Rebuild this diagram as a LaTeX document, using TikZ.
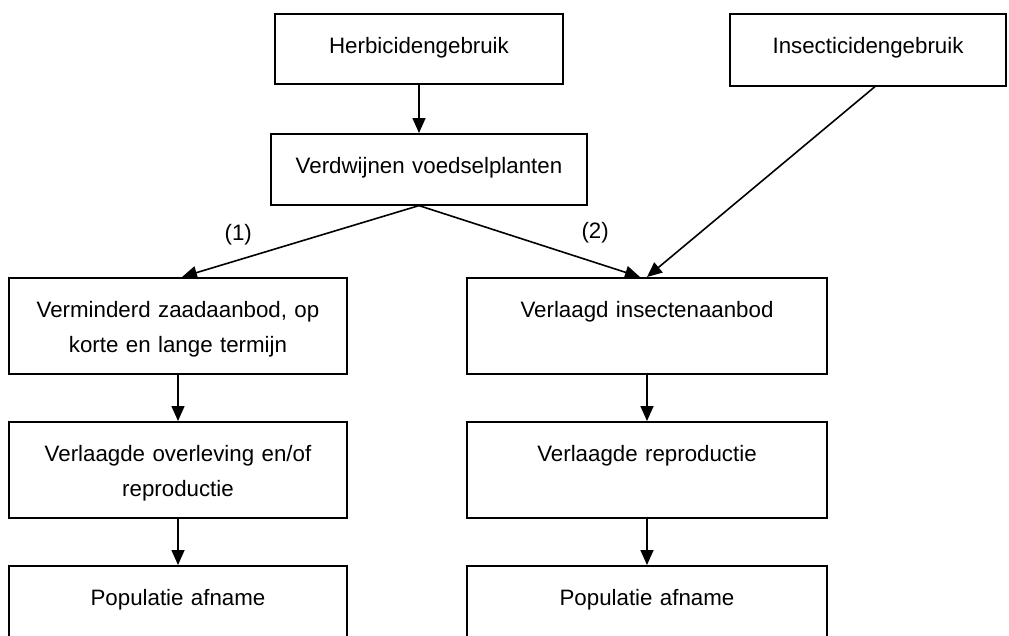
\documentclass[tikz,border=0pt]{standalone}
\usepackage{fontspec}
\setmainfont{Liberation Sans}
\usetikzlibrary{positioning,calc,arrows.meta}

\begin{document}
\begin{tikzpicture}[x=1pt,y=-1pt,
  box/.style 2 args={draw,line width=1.6pt,anchor=north,inner sep=0pt,align=center,
    text width=#1,text height=40pt,text depth=#2,font=\fontsize{22.3}{35}\selectfont},
  lbl/.style={inner sep=0pt,font=\fontsize{22.3}{35}\selectfont},
  arr/.style={line width=1.6pt,-{Triangle[length=15pt,width=13pt]}}]
  \useasboundingbox (0,0) rectangle (1009,635);
  \clip (0,0) rectangle (1009,635);
  % top row
  \node[box={288pt}{30pt}] (herb) at (419,13) {Herbicidengebruik};
  \node[box={276pt}{32pt}] (insect) at (868,13) {Insecticidengebruik};
  \node[box={316pt}{31pt}] (verdw) at (429,133) {Verdwijnen voedselplanten};
  % left column
  \node[box={338pt}{56pt}] (zaad) at (178,277) {Verminderd zaadaanbod, op\\korte en lange termijn};
  \node[box={338pt}{56pt}] (overl) at (178,421) {Verlaagde overleving en/of\\reproductie};
  \node[box={338pt}{56pt}] (popL) at (178,565) {Populatie afname};
  % right column
  \node[box={360pt}{56pt}] (insa) at (647,277) {Verlaagd insectenaanbod};
  \node[box={360pt}{56pt}] (repro) at (647,421) {Verlaagde reproductie};
  \node[box={360pt}{56pt}] (popR) at (647,565) {Populatie afname};
  % connectors
  \coordinate (fork) at (herb.south |- verdw.south);
  \draw[arr] (herb.south) -- (herb.south |- verdw.north);
  \draw[arr] (fork) -- node[lbl,pos=.7625,above=14pt] {(1)} ([xshift=4pt]zaad.north);
  \draw[arr] (fork) -- node[lbl,pos=.797,above=18.5pt] {(2)} ([xshift=-7pt]insa.north);
  \draw[arr] ([xshift=7pt]insect.south) -- (insa.north);
  \draw[arr] (zaad) -- (overl);
  \draw[arr] (overl) -- (popL);
  \draw[arr] (insa) -- (repro);
  \draw[arr] (repro) -- (popR);
\end{tikzpicture}
\end{document}
